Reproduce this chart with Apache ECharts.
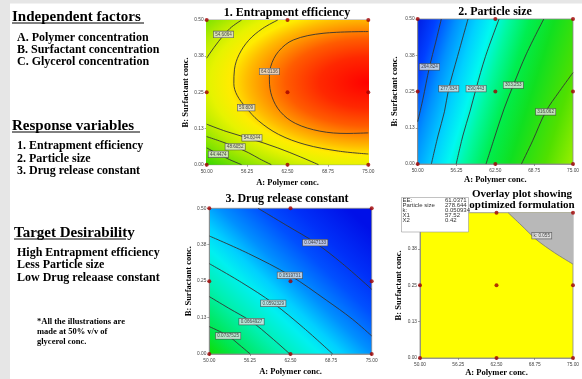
<!DOCTYPE html>
<html>
<head>
<meta charset="utf-8">
<script src="https://cdn.jsdelivr.net/npm/echarts@6/dist/echarts.min.js"></script>
<style>
  html, body { margin: 0; padding: 0; background: #fff; }
  #chart { width: 582px; height: 379px; }
</style>
</head>
<body>
<div id="chart"></div>
<script>
// axes shared by all four panels
const polymerRange = [50, 75];
const surfactantRange = [0, 0.5];
const polymerStep = 6.25;
const surfactantStep = 0.125;

// design points (factorial + centre)
const designPoints = [
  [50, 0], [62.5, 0], [75, 0],
  [50, 0.25], [62.5, 0.25], [75, 0.25],
  [50, 0.5], [62.5, 0.5], [75, 0.5]
];

// 1. Entrapment efficiency contours [polymer, surfactant]
const eePeak = [[75, 0.284]];
const ee64 = [[75, 0.46], [68, 0.454], [63.4, 0.431], [61.1, 0.391], [59.9, 0.339], [59.7, 0.293],
  [60.1, 0.235], [61.4, 0.183], [63.7, 0.143], [67.5, 0.116], [71.7, 0.108], [75, 0.11]];
const ee59 = [[61, 0.5], [58.6, 0.47], [56.5, 0.43], [55, 0.38], [54.3, 0.33], [54.2, 0.28],
  [54.7, 0.24], [56.1, 0.197], [58, 0.152], [61.1, 0.105], [65.2, 0.07], [70.4, 0.047], [75, 0.037]];
const ee54Top = [[55.4, 0.5], [53.6, 0.471], [51.8, 0.425], [50.5, 0.385], [50, 0.368]];
const ee54Bottom = [[50, 0.14], [53, 0.115], [57, 0.088], [61, 0.058], [64.5, 0.027], [67.3, 0]];
const ee48 = [[50, 0.097], [52, 0.082], [54.4, 0.062], [56.5, 0.041], [58.2, 0.02], [60, 0]];
const ee44 = [[50, 0.058], [51.8, 0.037], [53.5, 0.018], [55.4, 0]];
const eeLabels = [
  { value: [52.6, 0.45], name: '54.6064' },
  { value: [59.7, 0.322], name: '64.0136' },
  { value: [56.1, 0.197], name: '59.809' },
  { value: [57.0, 0.093], name: '54.6044' },
  { value: [54.4, 0.062], name: '48.6052' },
  { value: [51.8, 0.036], name: '44.4474' }
];

// 2. Particle size contours
const ps1 = [[50, 0.146], [50.8, 0.22], [51.9, 0.335], [52.9, 0.42], [53.8, 0.5]];
const ps2 = [[52.2, 0], [53.3, 0.1], [54.3, 0.18], [55, 0.26], [56.4, 0.37], [58.1, 0.5]];
const ps3 = [[56.2, 0], [57.3, 0.1], [58.4, 0.18], [59.4, 0.26], [60.9, 0.37], [63.1, 0.5]];
const ps4 = [[61, 0], [62.5, 0.1], [63.9, 0.19], [65.4, 0.272], [67.5, 0.38], [70.3, 0.5]];
const ps5 = [[66.7, 0], [68.5, 0.08], [70.6, 0.18], [72.8, 0.25], [75, 0.315]];
const psLabels = [
  { value: [51.9, 0.335], name: '264.824' },
  { value: [55.0, 0.26], name: '277.634' },
  { value: [59.4, 0.26], name: '290.443' },
  { value: [65.4, 0.272], name: '303.253' },
  { value: [70.6, 0.18], name: '316.062' }
];

// 3. Drug release constant contours
const k1 = [[57.5, 0.5], [62, 0.44], [66.3, 0.382], [70.5, 0.31], [75, 0.222]];
const k2 = [[50, 0.405], [56, 0.345], [62.4, 0.27], [68, 0.185], [72, 0.12], [75, 0.062]];
const k3 = [[50, 0.31], [55, 0.245], [59.85, 0.174], [64.5, 0.09], [69, 0]];
const k4 = [[50, 0.197], [53, 0.157], [56.5, 0.111], [59.5, 0.057], [62.4, 0]];
const k5 = [[50, 0.094], [52.9, 0.062], [54.7, 0.03], [56.3, 0]];
const kLabels = [
  { value: [66.3, 0.382], name: '0.0447133' },
  { value: [62.4, 0.27], name: '0.0519731' },
  { value: [59.85, 0.174], name: '0.0592329' },
  { value: [56.5, 0.111], name: '0.0664927' },
  { value: [52.9, 0.062], name: '0.0737525' }
];

// overlay plot: edge of the region that fails the k criterion
const kLimit = [[64.4, 0.5], [66.5, 0.458], [69.1, 0.406], [72, 0.362], [75, 0.323]];
const kLimitLabel = [{ value: [69.9, 0.421], name: 'k: 0.055' }];
const optNames = ['EE:', 'Particle size', 'k:', 'X1', 'X2'];
const optValues = ['61.0371', '278.644', '0.050934', '57.52', '0.42'];

// left column text
const factorItems = ['A. Polymer concentration', 'B. Surfactant concentration', 'C. Glycerol concentration'];
const responseItems = ['1. Entrapment efficiency', '2. Particle size', '3. Drug release constant'];
const targetItems = ['High Entrapment efficiency', 'Less Particle size', 'Low Drug releaase constant'];
const noteLines = ['*All the illustrations are', 'made at 50% v/v of', 'glycerol conc.'];

const serif = '"Liberation Serif", "DejaVu Serif", serif';
const sans = '"Liberation Sans", Arial, sans-serif';

const chart = echarts.init(document.getElementById('chart'), null, { renderer: 'canvas' });

const grids = [
  { left: 206.7, top: 20, width: 161.6, height: 144.7 },
  { left: 417.7, top: 19, width: 160.6, height: 145 },
  { left: 209.3, top: 208.3, width: 162.4, height: 145.7 },
  { left: 420, top: 212.7, width: 159.5, height: 145.3 }
];
const yNameGap = [16, 18, 16, 17];
const xNameGap = [14, 11, 13, 9];

const psFill = new echarts.graphic.LinearGradient(-0.1, 0.3, 1.1, 0.7, [
  { offset: 0, color: '#0018e0' },
  { offset: 0.1, color: '#0040ff' },
  { offset: 0.2, color: '#0090ff' },
  { offset: 0.3, color: '#00d0ff' },
  { offset: 0.38, color: '#00f8f0' },
  { offset: 0.46, color: '#00f8a0' },
  { offset: 0.56, color: '#00ee50' },
  { offset: 0.68, color: '#10e020' },
  { offset: 0.85, color: '#50e000' },
  { offset: 1, color: '#a0f000' }
]);
const kFill = new echarts.graphic.LinearGradient(0, 1, 0.85, 0, [
  { offset: 0, color: '#10dd00' },
  { offset: 0.1, color: '#00e650' },
  { offset: 0.25, color: '#00f0b0' },
  { offset: 0.38, color: '#00f0f0' },
  { offset: 0.46, color: '#00d0ff' },
  { offset: 0.56, color: '#0090ff' },
  { offset: 0.7, color: '#0050ff' },
  { offset: 0.82, color: '#0030f8' },
  { offset: 1, color: '#0010e8' }
]);
// elliptical red-to-green fill around the EE optimum (radius 128 px, stretched 1.9x horizontally)
const eeFill = new echarts.graphic.RadialGradient(0, 0, 128, [
  { offset: 0, color: '#ff0000' },
  { offset: 0.2, color: '#ff2800' },
  { offset: 0.34, color: '#ff5c00' },
  { offset: 0.42, color: '#ff8c00' },
  { offset: 0.5, color: '#ffbc00' },
  { offset: 0.57, color: '#ffec00' },
  { offset: 0.65, color: '#e6f300' },
  { offset: 0.73, color: '#bcec00' },
  { offset: 0.81, color: '#88e400' },
  { offset: 0.9, color: '#48da00' },
  { offset: 1, color: '#10d400' }
], true);
const gridFills = ['#10d400', psFill, kFill, '#ffff00'];

const contour = (data, i) => ({
  type: 'line', xAxisIndex: i, yAxisIndex: i, data,
  smooth: 0.35, symbol: 'none', silent: true, z: 3,
  lineStyle: { color: '#333', width: 0.9 }
});
const levelLabels = (data, i) => ({
  type: 'scatter', xAxisIndex: i, yAxisIndex: i, data,
  symbolSize: 0.1, itemStyle: { color: 'transparent' }, silent: true, z: 4,
  label: {
    show: true, position: 'inside', formatter: '{b}',
    fontSize: 4.6, fontFamily: sans, color: '#222',
    backgroundColor: '#e4e4e4', borderColor: '#444', borderWidth: 0.6,
    padding: [0.5, 1.5]
  }
});
const dots = (i) => ({
  type: 'scatter', xAxisIndex: i, yAxisIndex: i, data: designPoints,
  symbolSize: 4, itemStyle: { color: '#a00000' }, clip: false, silent: true, z: 5
});

const series = [
  {
    type: 'custom', xAxisIndex: 0, yAxisIndex: 0, data: eePeak, clip: true, silent: true, z: 1,
    renderItem: (params, api) => {
      const c = api.coord([api.value(0), api.value(1)]);
      return {
        type: 'circle', x: c[0], y: c[1], scaleX: 1.9, scaleY: 1,
        shape: { cx: 0, cy: 0, r: 128 },
        style: { fill: eeFill }
      };
    }
  },
  contour(ee64, 0), contour(ee59, 0), contour(ee54Top, 0), contour(ee54Bottom, 0),
  contour(ee48, 0), contour(ee44, 0), levelLabels(eeLabels, 0), dots(0),
  contour(ps1, 1), contour(ps2, 1), contour(ps3, 1), contour(ps4, 1), contour(ps5, 1),
  levelLabels(psLabels, 1), dots(1),
  contour(k1, 2), contour(k2, 2), contour(k3, 2), contour(k4, 2), contour(k5, 2),
  levelLabels(kLabels, 2), dots(2),
  {
    type: 'line', xAxisIndex: 3, yAxisIndex: 3, data: kLimit, smooth: 0.3,
    symbol: 'none', silent: true, z: 2,
    lineStyle: { color: '#777', width: 0.8 },
    areaStyle: { origin: 'end', color: '#b8b8b8', opacity: 1 }
  },
  levelLabels(kLimitLabel, 3), dots(3)
];

// free text: titles, left column, overlay flag
const texts = [];
const addText = (text, x, y, font, align) => texts.push({
  type: 'text', x, y, z: 100, silent: true,
  style: { text, font, fill: '#000', textAlign: align || 'left', textVerticalAlign: 'middle' }
});
const headFont = 'bold 15px ' + serif;
const itemFont = 'bold 12px ' + serif;
const titleFont = 'bold 12px ' + serif;

addText('Independent factors', 12, 17.5, headFont);
factorItems.forEach((t, i) => addText(t, 17, 37.5 + i * 12.4, itemFont));
addText('Response variables', 12, 126, headFont);
responseItems.forEach((t, i) => addText(t, 17, 146 + i * 12.6, itemFont));
addText('Target Desirability', 14, 233, headFont);
targetItems.forEach((t, i) => addText(t, 17, 252.5 + i * 12.6, itemFont));
noteLines.forEach((t, i) => addText(t, 37, 321.7 + i * 10, 'bold 8.5px ' + serif));

addText('1. Entrapment efficiency', 287, 12.5, titleFont, 'center');
addText('2. Particle size', 495, 12, titleFont, 'center');
addText('3. Drug release constant', 287, 199, titleFont, 'center');
addText('Overlay plot showing', 522, 194.5, 'bold 11px ' + serif, 'center');
addText('optimized formulation', 522, 205, 'bold 11px ' + serif, 'center');

const underline = (x1, x2, y) => ({
  type: 'line', z: 100, silent: true,
  shape: { x1, y1: y, x2, y2: y }, style: { stroke: '#000', lineWidth: 1 }
});

const flag = [
  { type: 'rect', z: 90, silent: true, shape: { x: 401.5, y: 197.5, width: 67, height: 34.5 },
    style: { fill: '#fff', stroke: '#999', lineWidth: 0.6 } }
];
optNames.forEach((t, i) => flag.push({
  type: 'text', x: 402.5, y: 200.5 + i * 4.9, z: 100, silent: true,
  style: { text: t, font: '6px ' + sans, fill: '#333', textVerticalAlign: 'middle' }
}));
optValues.forEach((t, i) => flag.push({
  type: 'text', x: 445, y: 200.5 + i * 4.9, z: 100, silent: true,
  style: { text: t, font: '6px ' + sans, fill: '#333', textVerticalAlign: 'middle' }
}));

const option = {
  animation: false,
  backgroundColor: '#fff',
  grid: grids.map((g, i) => Object.assign({}, g, {
    show: true, backgroundColor: gridFills[i], borderColor: '#888', borderWidth: 0.8
  })),
  xAxis: grids.map((g, i) => ({
    type: 'value', gridIndex: i,
    min: polymerRange[0], max: polymerRange[1], interval: polymerStep,
    name: 'A: Polymer conc.', nameLocation: 'middle', nameGap: xNameGap[i],
    nameTextStyle: { fontFamily: serif, fontWeight: 'bold', fontSize: 8.5, color: '#000' },
    axisLine: { show: true, lineStyle: { color: '#888', width: 0.8 } },
    axisTick: { show: true, length: 2, lineStyle: { color: '#666', width: 0.6 } },
    axisLabel: { fontSize: 4.8, fontFamily: sans, color: '#444', margin: 4,
      formatter: (v) => v.toFixed(2), showMinLabel: true, showMaxLabel: true },
    splitLine: { show: false }
  })),
  yAxis: grids.map((g, i) => ({
    type: 'value', gridIndex: i,
    min: surfactantRange[0], max: surfactantRange[1], interval: surfactantStep,
    name: 'B: Surfactant conc.', nameLocation: 'middle', nameGap: yNameGap[i],
    nameTextStyle: { fontFamily: serif, fontWeight: 'bold', fontSize: 8.5, color: '#000' },
    axisLine: { show: true, lineStyle: { color: '#888', width: 0.8 } },
    axisTick: { show: true, length: 2, lineStyle: { color: '#666', width: 0.6 } },
    axisLabel: { fontSize: 4.8, fontFamily: sans, color: '#444', margin: 3,
      formatter: (v) => v.toFixed(2), showMinLabel: true, showMaxLabel: true },
    splitLine: { show: false }
  })),
  graphic: {
    elements: [
      { type: 'rect', z: 0, silent: true, shape: { x: 0, y: 0, width: 582, height: 3.5 }, style: { fill: '#e6e6e6' } },
      { type: 'rect', z: 0, silent: true, shape: { x: 0, y: 0, width: 10, height: 379 }, style: { fill: '#e6e6e6' } },
      underline(12, 144, 23),
      underline(12, 140, 132),
      underline(14, 126, 239)
    ].concat(texts, flag)
  },
  series
};

chart.setOption(option);
window.addEventListener('resize', () => chart.resize());
</script>
</body>
</html>
